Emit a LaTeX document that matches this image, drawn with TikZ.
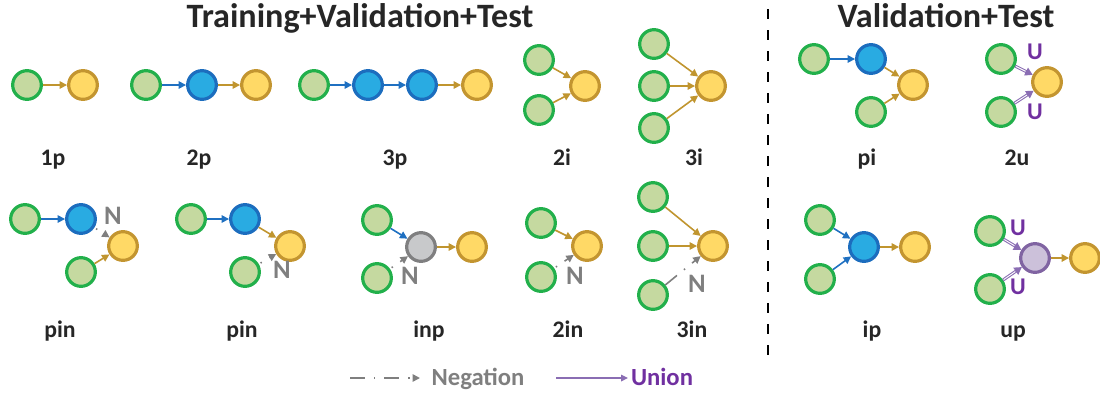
\documentclass[tikz,border=0pt]{standalone}
\usepackage{fontspec}
\setmainfont{Carlito}
\usetikzlibrary{arrows.meta}
\definecolor{entF}{HTML}{C5D9A0}
\definecolor{entB}{HTML}{22B04B}
\definecolor{ansF}{HTML}{FFD966}
\definecolor{ansB}{HTML}{C39530}
\definecolor{varF}{HTML}{29ABE2}
\definecolor{varB}{HTML}{1C6DBE}
\definecolor{ngF}{HTML}{C8C9CB}
\definecolor{ngB}{HTML}{7F7F80}
\definecolor{unF}{HTML}{CCC1DA}
\definecolor{unB}{HTML}{8064A2}
\definecolor{brA}{HTML}{C0952F}
\definecolor{blA}{HTML}{1F70C1}
\definecolor{grA}{HTML}{7F7F7F}
\definecolor{puA}{HTML}{8A6DB3}
\definecolor{puT}{HTML}{7030A0}
\definecolor{txt}{HTML}{262626}
\tikzset{
  basenode/.style={circle, minimum size=21.5pt, inner sep=0pt, line width=2.4pt},
  ent/.style={basenode, draw=entB, fill=entF},
  ans/.style={basenode, draw=ansB, fill=ansF},
  var/.style={basenode, draw=varB, fill=varF},
  ngn/.style={basenode, draw=ngB, fill=ngF},
  unn/.style={basenode, draw=unB, fill=unF},
  rel/.style={line width=1.2pt, -{Triangle[length=5.6pt,width=5.6pt]}},
  brarr/.style={rel, color=brA},
  blarr/.style={rel, color=blA},
  negarr/.style={rel, color=grA, dash pattern=on 11.25pt off 6.75pt on 1.1pt off 6.75pt, dash phase=16.5pt},
  negarrlong/.style={negarr, dash phase=0pt},
  unarr/.style={line width=2.3pt, color=puA, -{Triangle[length=5.6pt,width=6.2pt]}},
  uninner/.style={line width=0.7pt, color=white, shorten >=6pt, shorten <=0.5pt},
  lab/.style={anchor=base, text=txt, font=\bfseries\fontsize{17.8}{20}\selectfont, inner sep=0pt},
  ttl/.style={anchor=base, text=txt, font=\bfseries\fontsize{25.6}{28}\selectfont, inner sep=0pt},
  nlab/.style={text=grA, font=\bfseries\fontsize{20}{22}\selectfont, inner sep=0pt},
  ulab/.style={text=puT, font=\bfseries\fontsize{18}{20}\selectfont, inner sep=0pt},
  legtxt/.style={anchor=base, font=\bfseries\fontsize{18.5}{20}\selectfont, inner sep=0pt},
  sep/.style={line width=1.5pt, dash pattern=on 7.5pt off 8.25pt}
}
\begin{document}
\begin{tikzpicture}[x=0.75pt,y=-0.75pt]
\useasboundingbox (0,0) rectangle (1100,394);
% titles
\node[ttl] (t1) at (360,27) {Training+Validation+Test};
\node[ttl] (t2) at (946,27) {Validation+Test};
% separator
\coordinate (s1) at (768,9);
\coordinate (s2) at (768,355);
\draw[sep] (s1) -- (s2);

% 1p
\node[ent] (a1) at (27,85) {};
\node[ans] (a2) at (83,85) {};
\draw[brarr] (a1) -- (a2);
\node[lab] (la) at (53,165) {1p};
% 2p
\node[ent] (b1) at (146,85) {};
\node[var] (b2) at (202,85) {};
\node[ans] (b3) at (256,85) {};
\draw[blarr] (b1) -- (b2);
\draw[brarr] (b2) -- (b3);
\node[lab] (lb) at (199,165) {2p};
% 3p
\node[ent] (c1) at (314,85) {};
\node[var] (c2) at (368,85) {};
\node[var] (c3) at (422,85) {};
\node[ans] (c4) at (477,85) {};
\draw[blarr] (c1) -- (c2);
\draw[blarr] (c2) -- (c3);
\draw[brarr] (c3) -- (c4);
\node[lab] (lc) at (395,165) {3p};
% 2i
\node[ent] (d1) at (539,60) {};
\node[ent] (d2) at (539,110) {};
\node[ans] (d3) at (585,86) {};
\draw[brarr] (d1) -- (d3);
\draw[brarr] (d2) -- (d3);
\node[lab] (ld) at (562,165) {2i};
% 3i
\node[ent] (e1) at (654,44) {};
\node[ent] (e2) at (654,86) {};
\node[ent] (e3) at (654,128) {};
\node[ans] (e4) at (711,86) {};
\draw[brarr] (e1) -- (e4);
\draw[brarr] (e2) -- (e4);
\draw[brarr] (e3) -- (e4);
\node[lab] (le) at (694,165) {3i};
% pi
\node[ent] (f1) at (814,59) {};
\node[var] (f2) at (871,59) {};
\node[ans] (f3) at (913,85) {};
\node[ent] (f4) at (871,112) {};
\draw[blarr] (f1) -- (f2);
\draw[brarr] (f2) -- (f3);
\draw[brarr] (f4) -- (f3);
\node[lab] (lf) at (867,165) {pi};
% 2u
\node[ent] (g1) at (1001,59) {};
\node[ent] (g2) at (1001,112) {};
\node[ans] (g3) at (1047,82) {};
\draw[unarr] (g1) -- (g3);
\draw[uninner] (g1) -- (g3);
\draw[unarr] (g2) -- (g3);
\draw[uninner] (g2) -- (g3);
\node[ulab] (gu1) at (1035,52) {U};
\node[ulab] (gu2) at (1035,112) {U};
\node[lab] (lg) at (1017,165) {2u};

% pin (1)
\node[ent] (h1) at (25,219) {};
\node[var] (h2) at (81,219) {};
\node[ans] (h3) at (123,246) {};
\node[ent] (h4) at (81,272) {};
\draw[blarr] (h1) -- (h2);
\draw[negarr] (h2) -- (h3);
\draw[brarr] (h4) -- (h3);
\node[nlab] (hn) at (113,216) {N};
\node[lab] (lh) at (60,337) {pin};
% pin (2)
\node[ent] (i1) at (191,219) {};
\node[var] (i2) at (245,219) {};
\node[ans] (i3) at (290,246) {};
\node[ent] (i4) at (245,272) {};
\draw[blarr] (i1) -- (i2);
\draw[brarr] (i2) -- (i3);
\draw[negarr] (i4) -- (i3);
\node[nlab] (in) at (282,270) {N};
\node[lab] (li) at (242,337) {pin};
% inp
\node[ent] (j1) at (377,220) {};
\node[ngn] (j2) at (421,247) {};
\node[ans] (j3) at (472,247) {};
\node[ent] (j4) at (377,278) {};
\draw[blarr] (j1) -- (j2);
\draw[negarr] (j4) -- (j2);
\draw[brarr] (j2) -- (j3);
\node[nlab] (jn) at (410,276) {N};
\node[lab] (lj) at (429,337) {inp};
% 2in
\node[ent] (k1) at (541,223) {};
\node[ans] (k2) at (587,246) {};
\node[ent] (k3) at (541,277) {};
\draw[brarr] (k1) -- (k2);
\draw[negarr] (k3) -- (k2);
\node[nlab] (kn) at (575,276) {N};
\node[lab] (lk) at (568,337) {2in};
% 3in
\node[ent] (l1) at (653,197) {};
\node[ent] (l2) at (653,246) {};
\node[ent] (l3) at (653,295) {};
\node[ans] (l4) at (713,246) {};
\draw[brarr] (l1) -- (l4);
\draw[brarr] (l2) -- (l4);
\draw[negarrlong] (l3) -- (l4);
\node[nlab] (ln) at (697,284) {N};
\node[lab] (ll) at (692,337) {3in};
% ip
\node[ent] (m1) at (820,220) {};
\node[var] (m2) at (864,247) {};
\node[ans] (m3) at (915,247) {};
\node[ent] (m4) at (820,279) {};
\draw[blarr] (m1) -- (m2);
\draw[blarr] (m4) -- (m2);
\draw[brarr] (m2) -- (m3);
\node[lab] (lm) at (872,337) {ip};
% up
\node[ent] (n1) at (990,231) {};
\node[unn] (n2) at (1035,258) {};
\node[ans] (n3) at (1085,258) {};
\node[ent] (n4) at (990,289) {};
\draw[unarr] (n1) -- (n2);
\draw[uninner] (n1) -- (n2);
\draw[unarr] (n4) -- (n2);
\draw[uninner] (n4) -- (n2);
\draw[brarr] (n2) -- (n3);
\node[ulab] (nu1) at (1018,228) {U};
\node[ulab] (nu2) at (1018,287) {U};
\node[lab] (lnn) at (1013,337) {up};

% legend
\coordinate (q1) at (350,378);
\coordinate (q2) at (420,378);
\draw[negarrlong] (q1) -- (q2);
\node[legtxt, text=grA] (qt) at (478,385) {Negation};
\coordinate (u1) at (556,378);
\coordinate (u2) at (628,378);
\draw[line width=0.9pt, color=puA, -{Triangle[length=5.25pt,width=5pt]}] (u1) -- (u2);
\node[legtxt, text=puT] (ut) at (662,385) {Union};
\end{tikzpicture}
\end{document}
